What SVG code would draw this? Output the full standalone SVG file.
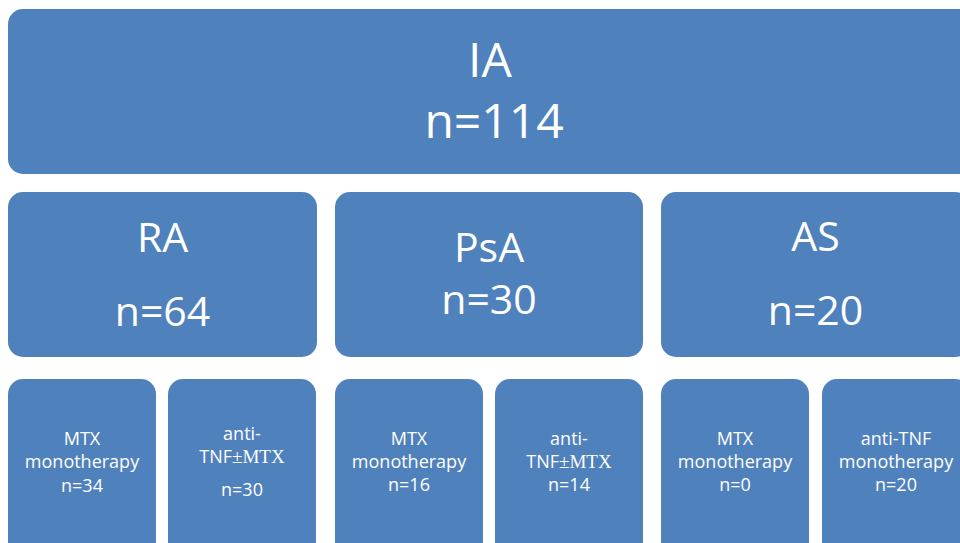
<svg xmlns="http://www.w3.org/2000/svg" width="960" height="543" viewBox="0 0 960 543">
<style>
.box{fill:#4F81BD;}
text{fill:#fff;font-family:"Open Sans","Noto Sans","Liberation Sans",sans-serif;text-anchor:middle;}
.t1{font-size:48px;}
.t2{font-size:41px;}
.t3{font-size:18px;}
.serif{font-family:"Liberation Serif","Times New Roman",serif;font-size:19px;}
</style>
<rect width="960" height="543" fill="#fff"/>
<g id="connectors"></g>
<g id="IA">
<rect class="box" x="8" y="9" width="972" height="165" rx="15"/>
<text class="t1" x="490" y="77">IA</text>
<text class="t1" x="494" y="138">n=114</text>
</g>
<g id="RA">
<rect class="box" x="8" y="192" width="309" height="165" rx="15"/>
<text class="t2" x="162.5" y="252">RA</text>
<text class="t2" x="162.5" y="326">n=64</text>
</g>
<g id="PsA">
<rect class="box" x="335" y="192" width="308" height="165" rx="15"/>
<text class="t2" x="489" y="262">PsA</text>
<text class="t2" x="489" y="314">n=30</text>
</g>
<g id="AS">
<rect class="box" x="661" y="192" width="309" height="165" rx="15"/>
<text class="t2" x="815.5" y="251">AS</text>
<text class="t2" x="815.5" y="325">n=20</text>
</g>
<g id="RA-MTX">
<rect class="box" x="8" y="379" width="148" height="180" rx="15"/>
<text class="t3" x="82" y="445">MTX</text>
<text class="t3" x="82" y="468">monotherapy</text>
<text class="t3" x="82" y="491.5">n=34</text>
</g>
<g id="RA-antiTNF">
<rect class="box" x="168" y="379" width="148" height="180" rx="15"/>
<text class="t3" x="242" y="440">anti-</text>
<text class="t3" x="242" y="462.5">TNF<tspan class="serif">±MTX</tspan></text>
<text class="t3" x="242" y="496">n=30</text>
</g>
<g id="PsA-MTX">
<rect class="box" x="335" y="379" width="148" height="180" rx="15"/>
<text class="t3" x="409" y="445">MTX</text>
<text class="t3" x="409" y="468">monotherapy</text>
<text class="t3" x="409" y="491">n=16</text>
</g>
<g id="PsA-antiTNF">
<rect class="box" x="495" y="379" width="148" height="180" rx="15"/>
<text class="t3" x="569" y="445">anti-</text>
<text class="t3" x="569" y="467.5">TNF<tspan class="serif">±MTX</tspan></text>
<text class="t3" x="569" y="491">n=14</text>
</g>
<g id="AS-MTX">
<rect class="box" x="661" y="379" width="148" height="180" rx="15"/>
<text class="t3" x="735" y="445">MTX</text>
<text class="t3" x="735" y="468">monotherapy</text>
<text class="t3" x="735" y="491">n=0</text>
</g>
<g id="AS-antiTNF">
<rect class="box" x="822" y="379" width="148" height="180" rx="15"/>
<text class="t3" x="896" y="445">anti-TNF</text>
<text class="t3" x="896" y="468">monotherapy</text>
<text class="t3" x="896" y="491">n=20</text>
</g>
</svg>
